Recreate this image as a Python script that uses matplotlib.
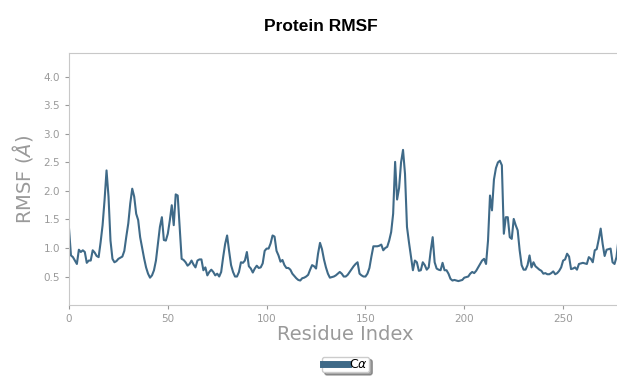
import numpy as np
import matplotlib
matplotlib.use("Agg")
from matplotlib import pyplot as plt

# RMSF per residue (C-alpha)
rmsf = [
    1.35, 0.87, 0.84, 0.78, 0.72, 0.97, 0.93, 0.96, 0.93, 0.74,
    0.78, 0.78, 0.96, 0.92, 0.86, 0.84, 1.10, 1.40, 1.84, 2.36,
    1.90, 1.13, 0.81, 0.75, 0.77, 0.81, 0.83, 0.85, 0.95, 1.20,
    1.43, 1.78, 2.04, 1.90, 1.60, 1.49, 1.19, 1.00, 0.82, 0.66,
    0.55, 0.48, 0.52, 0.61, 0.78, 1.07, 1.37, 1.54, 1.14, 1.13,
    1.25, 1.48, 1.75, 1.40, 1.94, 1.92, 1.37, 0.81, 0.79, 0.75,
    0.69, 0.72, 0.78, 0.71, 0.66, 0.78, 0.80, 0.80, 0.61, 0.66,
    0.52, 0.58, 0.62, 0.58, 0.52, 0.55, 0.50, 0.58, 0.84, 1.07,
    1.22, 0.95, 0.70, 0.58, 0.50, 0.50, 0.58, 0.75, 0.74, 0.78,
    0.93, 0.68, 0.64, 0.57, 0.64, 0.69, 0.65, 0.66, 0.73, 0.95,
    0.99, 0.99, 1.08, 1.22, 1.20, 0.95, 0.87, 0.76, 0.79, 0.70,
    0.65, 0.65, 0.62, 0.55, 0.51, 0.47, 0.44, 0.43, 0.47, 0.48,
    0.50, 0.53, 0.62, 0.70, 0.68, 0.64, 0.90, 1.09, 0.98, 0.80,
    0.66, 0.55, 0.48, 0.49, 0.50, 0.52, 0.55, 0.58, 0.55, 0.50,
    0.50, 0.53, 0.58, 0.63, 0.68, 0.72, 0.75, 0.55, 0.52, 0.50,
    0.50, 0.55, 0.65, 0.85, 1.03, 1.03, 1.03, 1.04, 1.06, 0.96,
    1.00, 1.02, 1.13, 1.28, 1.60, 2.51, 1.85, 2.05, 2.50, 2.72,
    2.30, 1.37, 1.10, 0.85, 0.61, 0.78, 0.75, 0.60, 0.61, 0.75,
    0.70, 0.62, 0.66, 0.95, 1.19, 0.75, 0.64, 0.62, 0.61, 0.74,
    0.61, 0.61, 0.55, 0.46, 0.43, 0.44, 0.43, 0.42, 0.43, 0.44,
    0.48, 0.49, 0.50, 0.55, 0.58, 0.56, 0.60, 0.66, 0.72, 0.78,
    0.81, 0.72, 1.13, 1.92, 1.66, 2.20, 2.40, 2.50, 2.53, 2.45,
    1.25, 1.54, 1.54, 1.19, 1.16, 1.51, 1.40, 1.31, 0.96, 0.70,
    0.62, 0.62, 0.70, 0.87, 0.66, 0.75, 0.68, 0.65, 0.62, 0.60,
    0.55, 0.56, 0.54, 0.54, 0.56, 0.59, 0.54, 0.56, 0.60, 0.66,
    0.78, 0.80, 0.90, 0.85, 0.63, 0.64, 0.66, 0.62, 0.72, 0.73,
    0.74, 0.73, 0.72, 0.84, 0.81, 0.75, 0.96, 0.98, 1.15, 1.34,
    1.07, 0.86, 0.97, 0.98, 0.99, 0.75, 0.72, 0.84, 1.15, 1.30,
]
residues = np.arange(len(rmsf))

x_ticks = [0, 50, 100, 150, 200, 250]
y_ticks = [0.5, 1.0, 1.5, 2.0, 2.5, 3.0, 3.5, 4.0]

line_color = "#3f6a88"
grey = "#9a9a9a"

fig = plt.figure(figsize=(6.17, 3.78), dpi=100)
ax = fig.add_axes([0.1118, 0.193, 0.897, 0.667])

ax.plot(residues, rmsf, color=line_color, lw=1.5, label=r"C$\alpha$")

ax.set_xlim(0, 280)
ax.set_ylim(0, 4.42)
ax.set_xticks(x_ticks)
ax.set_yticks(y_ticks)
ax.tick_params(colors=grey, labelsize=7.5, length=3)

for s in ax.spines.values():
    s.set_color("#c8c8c8")

ax.set_xlabel("Residue Index", fontsize=14, color=grey, labelpad=1)
ax.set_ylabel(r"RMSF ($\AA$)", fontsize=14, color=grey, labelpad=6)

fig.text(0.52, 0.93, "Protein RMSF", ha="center", va="center",
         fontsize=12.5, fontweight="bold", family="Liberation Sans")

leg = ax.legend(loc="upper center", bbox_to_anchor=(0.5, -0.205), shadow=True,
                fontsize=9, handlelength=2.0, handletextpad=0.1,
                borderpad=0.1, borderaxespad=0, fancybox=True)
for h in leg.get_lines():
    h.set_linewidth(5)

fig.savefig("out.png", dpi=100)
